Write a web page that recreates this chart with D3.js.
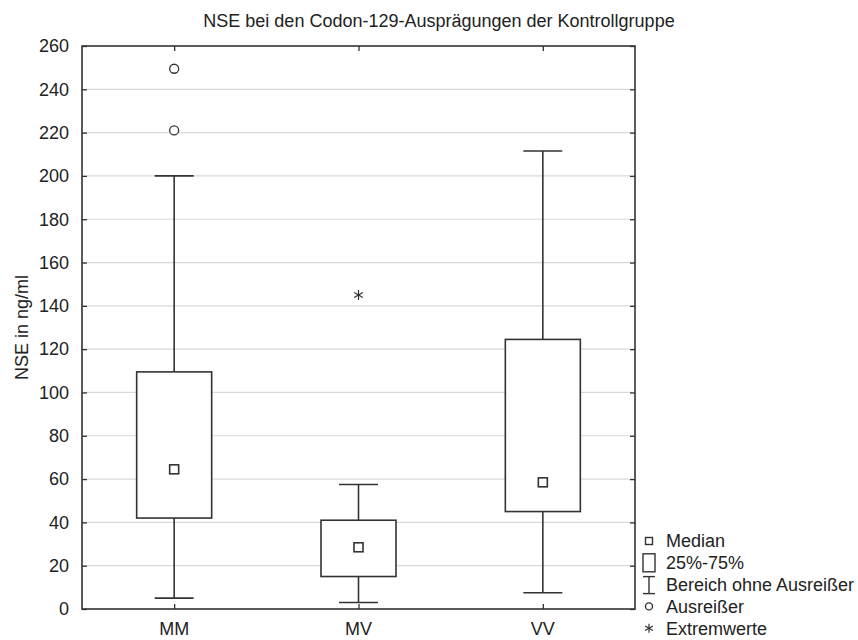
<!DOCTYPE html>
<html><head><meta charset="utf-8">
<script src="https://cdn.jsdelivr.net/npm/d3@7"></script>
<style>body{margin:0;background:#fff}svg{display:block}text{font-family:"Liberation Sans",Arial,sans-serif;fill:#222}</style>
</head><body><svg id="c" width="858" height="640"></svg>
<script>
const categories = ["MM","MV","VV"];
const whiskerLow = [5, 3, 7.5];
const q1 = [42, 15, 45];
const median = [64.5, 28.5, 58.5];
const q3 = [109.5, 41, 124.5];
const whiskerHigh = [200, 57.5, 211.5];
const outliers = [[221, 249.5], [], []];
const extremes = [[], [145], []];
const yTicks = [0,20,40,60,80,100,120,140,160,180,200,220,240,260];
const legendLabels = ["Median","25%-75%","Bereich ohne Ausreißer","Ausreißer","Extremwerte"];
const title = "NSE bei den Codon-129-Ausprägungen der Kontrollgruppe";
const yTitle = "NSE in ng/ml";

const svg = d3.select("#c");
const L=82, R=635, T=46, B=609;
const x = d3.scalePoint().domain(categories).range([L,R]).padding(0.5);
const y = d3.scaleLinear().domain([0,260]).range([B,T]);
const ink = "#333";
const fs = 18;

// grid
svg.append("g").selectAll("line").data(yTicks.slice(1,-1)).join("line")
  .attr("x1",L).attr("x2",R).attr("y1",d=>y(d)).attr("y2",d=>y(d))
  .attr("stroke","#d9d9d9").attr("stroke-width",1.2);

// axes (inward ticks)
const yl = svg.append("g").attr("transform",`translate(${L},0)`).call(d3.axisRight(y).tickValues(yTicks).tickSize(5).tickFormat(""));
const yr = svg.append("g").attr("transform",`translate(${R},0)`).call(d3.axisLeft(y).tickValues(yTicks).tickSize(5).tickFormat(""));
const xb = svg.append("g").attr("transform",`translate(0,${B})`).call(d3.axisTop(x).tickSize(5).tickFormat(""));
const xt = svg.append("g").attr("transform",`translate(0,${T})`).call(d3.axisBottom(x).tickSize(5).tickFormat(""));
[yl,yr,xb,xt].forEach(g=>{g.select(".domain").remove();g.selectAll("line").attr("stroke",ink).attr("stroke-width",1.3);});
svg.append("rect").attr("x",L).attr("y",T).attr("width",R-L).attr("height",B-T)
  .attr("fill","none").attr("stroke",ink).attr("stroke-width",1.6);

// tick labels
svg.append("g").selectAll("text").data(yTicks).join("text")
  .attr("x",L-13).attr("y",d=>y(d)).attr("dy","0.35em").attr("text-anchor","end")
  .style("font-size",fs+"px").text(d=>d);
svg.append("g").selectAll("text").data(categories).join("text")
  .attr("x",d=>x(d)).attr("y",B+26).attr("text-anchor","middle")
  .style("font-size",fs+"px").text(d=>d);

// titles
svg.append("text").attr("x",439).attr("y",27).attr("text-anchor","middle").style("font-size",fs+"px").text(title);
svg.append("text").attr("transform",`translate(28,${(T+B)/2}) rotate(-90)`).attr("text-anchor","middle")
  .style("font-size",fs+"px").text(yTitle);

// boxes
const bw = 75, cw = 39, ms = 9;
const g = svg.append("g").attr("stroke",ink).attr("stroke-width",1.6);
categories.forEach((c,i)=>{
  const cx = x(c);
  g.append("line").attr("x1",cx).attr("x2",cx).attr("y1",y(q3[i])).attr("y2",y(whiskerHigh[i]));
  g.append("line").attr("x1",cx).attr("x2",cx).attr("y1",y(q1[i])).attr("y2",y(whiskerLow[i]));
  g.append("line").attr("x1",cx-cw/2).attr("x2",cx+cw/2).attr("y1",y(whiskerHigh[i])).attr("y2",y(whiskerHigh[i]));
  g.append("line").attr("x1",cx-cw/2).attr("x2",cx+cw/2).attr("y1",y(whiskerLow[i])).attr("y2",y(whiskerLow[i]));
  g.append("rect").attr("x",cx-bw/2).attr("y",y(q3[i])).attr("width",bw).attr("height",y(q1[i])-y(q3[i])).attr("fill","#fff");
  g.append("rect").attr("x",cx-ms/2).attr("y",y(median[i])-ms/2).attr("width",ms).attr("height",ms).attr("fill","#fff");
  outliers[i].forEach(v=>g.append("circle").attr("cx",cx).attr("cy",y(v)).attr("r",4.5).attr("fill","#fff").attr("stroke-width",1.3));
  extremes[i].forEach(v=>drawStar(g,cx,y(v),5));
});
function drawStar(sel,cx,cy,r){
  [0,60,120].forEach(a=>{
    const rad=a*Math.PI/180;
    sel.append("line").attr("x1",cx-r*Math.sin(rad)).attr("x2",cx+r*Math.sin(rad))
      .attr("y1",cy-r*Math.cos(rad)).attr("y2",cy+r*Math.cos(rad)).attr("stroke",ink).attr("stroke-width",1.2);
  });
}

// legend
const lg = svg.append("g").attr("stroke",ink).attr("stroke-width",1.4);
const lx = 649, ly0 = 541, dy = 21.8, tx = 666;
lg.append("rect").attr("x",lx-3.5).attr("y",ly0-3.5).attr("width",7).attr("height",7).attr("fill","#fff");
lg.append("rect").attr("x",lx-6).attr("y",ly0+dy-9).attr("width",12).attr("height",18).attr("fill","#fff");
lg.append("line").attr("x1",lx-6).attr("x2",lx+6).attr("y1",ly0+2*dy-8).attr("y2",ly0+2*dy-8);
lg.append("line").attr("x1",lx-6).attr("x2",lx+6).attr("y1",ly0+2*dy+9).attr("y2",ly0+2*dy+9);
lg.append("line").attr("x1",lx).attr("x2",lx).attr("y1",ly0+2*dy-8).attr("y2",ly0+2*dy+9);
lg.append("circle").attr("cx",lx).attr("cy",ly0+3*dy).attr("r",3.5).attr("fill","#fff");
drawStar(lg,lx,ly0+4*dy,4.5);
svg.append("g").selectAll("text").data(legendLabels).join("text")
  .attr("x",tx).attr("y",(d,i)=>ly0+i*dy).attr("dy","0.35em").style("font-size",fs+"px").text(d=>d);
</script></body></html>
